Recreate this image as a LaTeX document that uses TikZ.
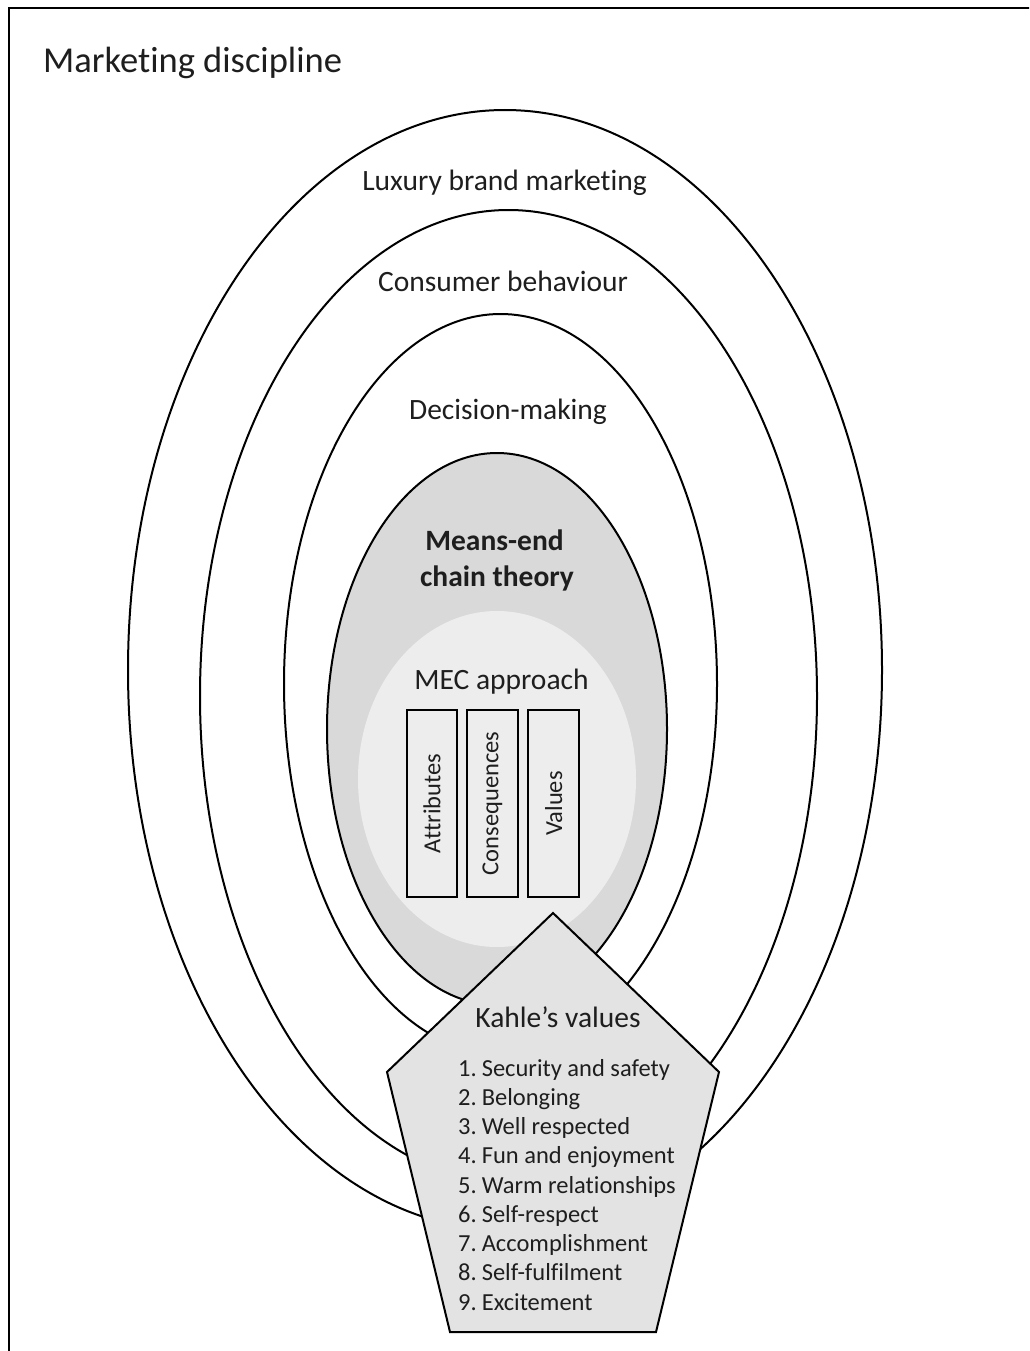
\documentclass[tikz,border=0pt]{standalone}
\usepackage{fontspec}
\setmainfont{Carlito}[Ligatures={NoCommon}]
\definecolor{ink}{RGB}{30,30,30}
\definecolor{theory}{RGB}{217,217,217}
\definecolor{approach}{RGB}{237,237,237}
\definecolor{kahle}{RGB}{227,227,227}
\begin{document}
\begin{tikzpicture}[x=1pt,y=-1pt,
  ring/.style={draw=black, line width=2pt},
  lbl/.style={inner sep=0pt, text=ink, font=\fontsize{29.5}{37}\selectfont},
  stage/.style={draw=black, line width=2pt, text=ink, rotate=90,
    minimum width=187pt, minimum height=50.5pt, inner sep=0pt,
    font=\fontsize{24.5}{29}\selectfont}]
\useasboundingbox (0,0) rectangle (1029,1351);
\fill[white] (0,0) rectangle (1029,1351);

% frame of the discipline (right and bottom edges run off the page)
\begin{scope}
  \clip (0,0) rectangle (1029,1351);
  \draw[line width=2.6pt] (9,8) rectangle (1100,1420);
\end{scope}

% nested fields
\draw[ring] (505,670) ellipse [x radius=377pt, y radius=560pt];
\draw[ring] (508.5,696) ellipse [x radius=308.5pt, y radius=486pt];
\draw[ring] (500.5,684) ellipse [x radius=216.5pt, y radius=370pt];
\draw[ring, fill=theory] (497,729) ellipse [x radius=170pt, y radius=276pt];
\fill[approach] (497,779) ellipse [x radius=139pt, y radius=168pt];

% MEC stages
\node[stage] (attr) at (432,803.5) {Attributes};
\node[stage] (cons) at (492.3,803.5) {Consequences};
\node[stage] (vals) at (553.7,803.5) {Values};

% Kahle's list of values
\coordinate (ptop) at (553,913);
\coordinate (pright) at (719,1072);
\coordinate (pbr) at (656,1332);
\coordinate (pbl) at (450,1332);
\coordinate (pleft) at (387,1072);
\draw[ring, fill=kahle, line join=miter] (ptop) -- (pright) -- (pbr) -- (pbl) -- (pleft) -- cycle;

% labels
\node[lbl, anchor=base west, font=\fontsize{36.5}{42}\selectfont] (discipline) at (43,73) {Marketing discipline};
\node[lbl, anchor=base] (luxury) at (504.5,190) {Luxury brand marketing};
\node[lbl, anchor=base] (consumer) at (503,291.5) {Consumer behaviour};
\node[lbl, anchor=base] (decision) at (508,419) {Decision-making};
\node[lbl, anchor=base, font=\fontsize{29.5}{37}\selectfont\bfseries] (meansend) at (494.5,550) {Means-end};
\node[lbl, anchor=base, font=\fontsize{29.5}{37}\selectfont\bfseries] (chain) at (497,586.5) {chain theory};
\node[lbl, anchor=base] (meclbl) at (501.5,689) {MEC approach};
\node[lbl, anchor=base] (kahlelbl) at (558,1027) {Kahle’s values};
\node[inner sep=0pt, text=ink, anchor=base west, font=\fontsize{24.5}{29.25}\selectfont] (kahlelist) at (458,1076) {%
  \begin{tabular}[t]{@{}l@{\hspace{5pt}}l@{}}
  1. & Security and safety\\
  2. & Belonging\\
  3. & Well respected\\
  4. & Fun and enjoyment\\
  5. & Warm relationships\\
  6. & Self-respect\\
  7. & Accomplishment\\
  8. & Self-fulfilment\\
  9. & Excitement
  \end{tabular}};
\end{tikzpicture}
\end{document}
